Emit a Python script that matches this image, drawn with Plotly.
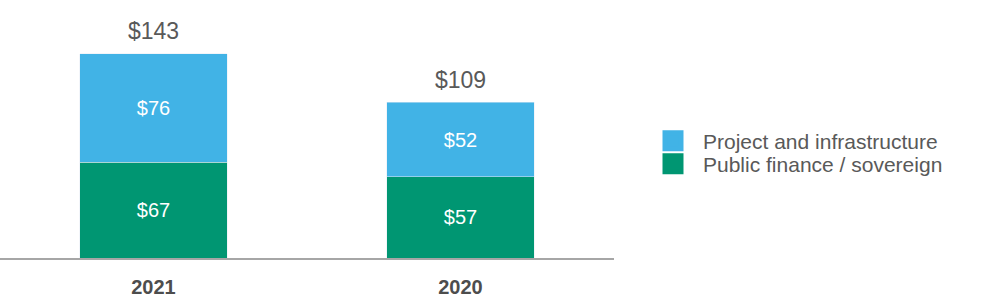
import plotly.graph_objects as go

categories = ["2021", "2020"]
public_finance = [67, 57]
project_infra = [76, 52]
totals = [143, 109]
series_names = ["Project and infrastructure", "Public finance / sovereign"]

BLUE = "#41B3E6"
GREEN = "#009672"
GRAY = "#595959"
FONT = "Liberation Sans, Arial, sans-serif"
Y_MAX = 150
LABEL_LIFT = 6.3  # value units, lifts the total labels a little above the bar tops

fig = go.Figure()
fig.add_trace(go.Bar(
    x=categories, y=public_finance, marker_color=GREEN, showlegend=False,
    text=[f"${v}" for v in public_finance], textposition="inside",
    insidetextanchor="middle", textfont=dict(color="white", size=20, family=FONT),
    hoverinfo="skip",
))
fig.add_trace(go.Bar(
    x=categories, y=project_infra, marker_color=BLUE, showlegend=False,
    text=[f"${v}" for v in project_infra], textposition="inside",
    insidetextanchor="middle", textfont=dict(color="white", size=20, family=FONT),
    hoverinfo="skip",
))
fig.add_trace(go.Scatter(
    x=categories, y=totals, mode="text", text=[f"${v}" for v in totals],
    textposition="top center", textfont=dict(color=GRAY, size=23, family=FONT),
    showlegend=False, cliponaxis=False, hoverinfo="skip", yaxis="y2",
))
legend_ids = ["legend", "legend2"]
for name, col, lg in zip(series_names, [BLUE, GREEN], legend_ids):
    fig.add_trace(go.Scatter(
        x=[None], y=[None], mode="markers", name=name, legend=lg,
        marker=dict(symbol="square", size=16, color=col, line=dict(color=col, width=5)),
    ))

legend_common = dict(
    xref="container", yref="container", x=0.643,
    xanchor="left", yanchor="middle",
    font=dict(size=21, color=GRAY, family=FONT),
    itemsizing="trace", itemwidth=50,
    bgcolor="rgba(0,0,0,0)",
)

fig.update_layout(
    width=1000, height=300,
    barmode="stack", bargap=0.518,
    margin=dict(l=0, r=386, t=44, b=42),
    plot_bgcolor="white", paper_bgcolor="white",
    font=dict(family=FONT, color=GRAY),
    showlegend=True,
    legend=dict(legend_common, y=1 - 141 / 300),
    legend2=dict(legend_common, y=1 - 164 / 300),
    xaxis=dict(
        showline=True, linecolor="#A6A6A6", linewidth=2,
        ticks="outside", ticklen=10, tickcolor="rgba(0,0,0,0)",
        tickfont=dict(size=20, color="#4D4D4D", family=FONT, weight="bold"),
        showgrid=False, fixedrange=True,
    ),
    yaxis=dict(
        range=[0, Y_MAX], visible=False, showgrid=False, fixedrange=True,
    ),
    yaxis2=dict(
        range=[-LABEL_LIFT, Y_MAX - LABEL_LIFT], overlaying="y", visible=False,
        showgrid=False, fixedrange=True,
    ),
)

fig.write_html("out.html")
